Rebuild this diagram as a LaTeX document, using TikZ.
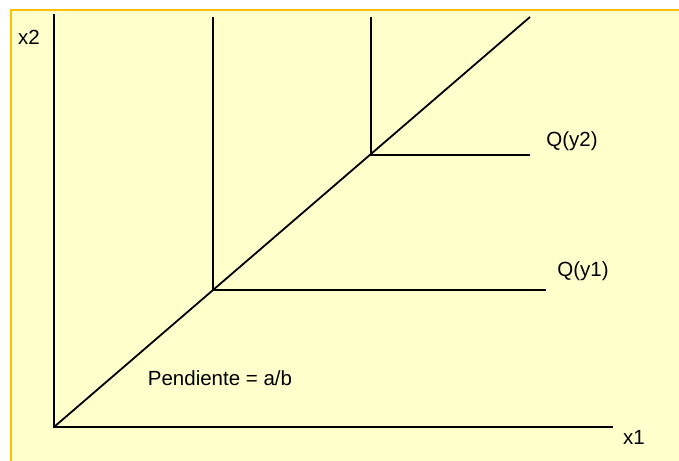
\documentclass[tikz,border=0pt]{standalone}
\usepackage{fontspec}
\setmainfont{Liberation Sans}
\definecolor{bgyellow}{HTML}{FFFFCC}
\definecolor{bordorange}{HTML}{FFC000}
\begin{document}
\begin{tikzpicture}[x=1pt,y=-1pt,
  ln/.style={line width=1.8pt,black},
  lbl/.style={font=\fontsize{20.5}{24}\selectfont,inner sep=0pt}]
\useasboundingbox (0,0) rectangle (679,460);
\fill[white] (0,0) rectangle (679,460);
\fill[bgyellow] (11,10) rectangle (681,462);
\draw[bordorange,line width=1.5pt] (11,462) -- (11,10) -- (681,10);
% coordinates
\coordinate (O) at (54,427);
\coordinate (ytop) at (54,14);
\coordinate (xend) at (613,427);
\coordinate (dend) at (530,17);
\coordinate (A) at (213,290);
\coordinate (Atop) at (213,17);
\coordinate (Aend) at (546,290);
\coordinate (B) at (371,155);
\coordinate (Btop) at (371,17);
\coordinate (Bend) at (530,155);
% axes
\draw[ln] (ytop) -- (O) -- (xend);
\draw[ln] (O) -- (dend);
% isoquants
\draw[ln] (Atop) -- (A) -- (Aend);
\draw[ln] (Btop) -- (B) -- (Bend);
% labels
\node[lbl] (lx2) at (29,37) {x2};
\node[lbl] (lx1) at (634,437) {x1};
\node[lbl] (lq2) at (572,141) {Q(y2)};
\node[lbl] (lq1) at (583,271) {Q(y1)};
\node[lbl] (lp) at (220,378) {Pendiente = a/b};
\end{tikzpicture}
\end{document}
